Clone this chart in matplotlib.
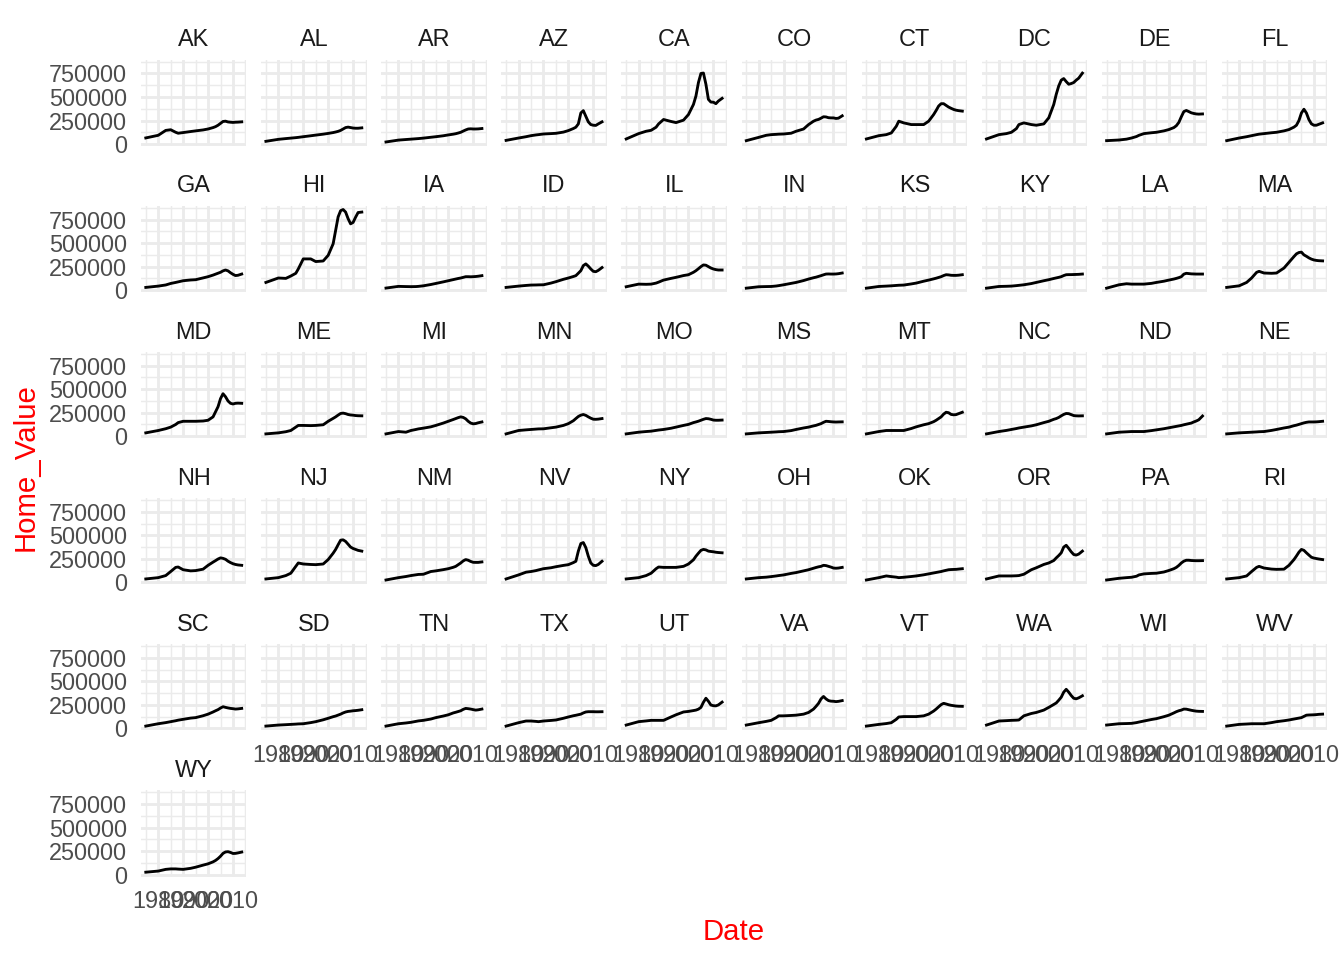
import numpy as np
import matplotlib
matplotlib.use('Agg')
import matplotlib.pyplot as plt

# Home value by state (thousands of dollars)
years = [1975, 1980, 1983, 1985, 1987, 1988, 1990, 1993, 1995, 1998, 2000,
         2002, 2003, 2004, 2005, 2006, 2007, 2008, 2009, 2010, 2011, 2012, 2013.5]

AK = [65, 93, 145, 152, 125, 115, 122, 133, 140, 150, 160, 175, 185, 200, 220, 240, 243, 235, 232, 230, 232, 233, 236]
AL = [29, 50, 58, 63, 68, 71, 78, 88, 95, 105, 113, 122, 128, 135, 145, 160, 175, 180, 175, 170, 168, 168, 172]
AR = [22, 42, 48, 52, 56, 58, 63, 72, 78, 88, 97, 105, 110, 117, 125, 138, 150, 160, 162, 160, 160, 161, 165]
AZ = [39, 64, 78, 89, 97, 100, 107, 111, 114, 127, 143, 165, 179, 214, 330, 355, 295, 236, 207, 200, 198, 214, 236]
CA = [54, 111, 136, 146, 179, 214, 261, 240, 228, 254, 314, 421, 511, 654, 750, 755, 636, 475, 446, 445, 429, 457, 486]
CO = [36, 71, 93, 100, 103, 105, 107, 115, 136, 160, 207, 243, 255, 262, 275, 290, 288, 280, 278, 278, 272, 275, 300]
CT = [54, 89, 100, 118, 189, 243, 225, 207, 207, 207, 243, 314, 357, 404, 429, 429, 411, 393, 380, 368, 360, 355, 350]
DC = [54, 100, 111, 125, 164, 207, 225, 207, 200, 214, 279, 421, 529, 618, 679, 696, 664, 636, 643, 654, 679, 700, 754]
DE = [36, 43, 52, 64, 80, 93, 111, 120, 125, 140, 154, 175, 195, 230, 290, 345, 357, 345, 332, 325, 320, 318, 320]
FL = [36, 64, 78, 89, 100, 105, 111, 120, 125, 140, 154, 180, 200, 250, 330, 370, 330, 260, 215, 200, 200, 210, 225]
GA = [29, 43, 55, 71, 82, 88, 100, 108, 111, 130, 143, 160, 170, 180, 190, 205, 214, 205, 185, 168, 155, 158, 171]
HI = [82, 129, 125, 150, 179, 225, 332, 332, 304, 310, 370, 493, 636, 779, 845, 857, 830, 760, 705, 720, 775, 825, 830]
IA = [22, 40, 38, 37, 38, 40, 46, 60, 71, 88, 100, 112, 118, 124, 129, 136, 143, 143, 142, 143, 145, 148, 154]
ID = [29, 43, 50, 54, 55, 56, 57, 75, 90, 115, 129, 145, 154, 180, 207, 261, 279, 255, 225, 200, 196, 210, 240]
IL = [36, 64, 62, 64, 75, 85, 107, 125, 136, 155, 164, 190, 207, 228, 250, 268, 265, 250, 235, 225, 218, 214, 214]
IN = [21, 36, 38, 39, 44, 48, 57, 72, 82, 102, 118, 132, 138, 146, 154, 163, 171, 172, 171, 171, 172, 175, 182]
KS = [21, 39, 43, 46, 50, 52, 54, 66, 75, 95, 107, 120, 127, 135, 143, 155, 164, 162, 158, 157, 157, 159, 164]
KY = [21, 39, 41, 43, 48, 51, 57, 70, 82, 100, 111, 124, 130, 136, 143, 155, 164, 165, 165, 166, 167, 168, 171]
LA = [21, 57, 68, 64, 64, 64, 64, 72, 82, 95, 107, 118, 125, 133, 143, 170, 179, 176, 173, 172, 171, 171, 171]
MA = [29, 46, 82, 129, 189, 200, 182, 179, 182, 235, 296, 357, 386, 400, 404, 375, 360, 343, 330, 321, 316, 313, 311]
MD = [36, 61, 80, 97, 125, 145, 159, 159, 159, 162, 170, 206, 260, 314, 400, 452, 420, 375, 350, 343, 350, 352, 350]
ME = [25, 36, 48, 61, 97, 115, 115, 113, 115, 122, 159, 190, 206, 225, 242, 246, 240, 231, 226, 224, 220, 218, 217]
MI = [25, 50, 43, 61, 72, 78, 86, 100, 115, 140, 159, 178, 188, 198, 206, 200, 185, 159, 140, 132, 135, 143, 152]
MN = [25, 61, 68, 72, 76, 78, 79, 90, 97, 115, 134, 165, 188, 210, 224, 231, 222, 206, 192, 181, 180, 182, 188]
MO = [25, 43, 50, 54, 62, 66, 72, 85, 97, 115, 126, 145, 152, 160, 170, 180, 188, 186, 180, 172, 170, 170, 172]
MS = [25, 36, 40, 43, 46, 48, 50, 60, 72, 88, 97, 110, 116, 125, 134, 148, 159, 157, 154, 152, 151, 152, 153]
MT = [25, 50, 61, 61, 61, 61, 61, 82, 100, 122, 134, 155, 170, 188, 206, 235, 255, 250, 232, 228, 230, 240, 255]
NC = [25, 50, 62, 72, 82, 88, 97, 110, 122, 145, 159, 180, 188, 200, 217, 232, 242, 240, 230, 220, 217, 216, 217]
ND = [25, 43, 47, 50, 50, 50, 50, 60, 68, 80, 90, 100, 105, 110, 115, 122, 128, 134, 140, 152, 162, 175, 215]
NE = [25, 36, 40, 43, 46, 48, 50, 62, 72, 88, 97, 112, 118, 126, 134, 142, 148, 152, 152, 152, 153, 155, 159]
NH = [36, 50, 72, 115, 159, 163, 134, 122, 125, 140, 181, 215, 231, 248, 260, 255, 245, 225, 210, 198, 190, 185, 181]
NJ = [36, 50, 72, 97, 170, 206, 195, 190, 188, 195, 242, 310, 350, 400, 448, 452, 435, 405, 375, 360, 350, 340, 332]
NM = [25, 50, 62, 72, 80, 84, 86, 115, 122, 135, 145, 160, 170, 188, 206, 228, 242, 235, 222, 213, 212, 212, 217]
NV = [36, 79, 108, 115, 125, 132, 145, 155, 166, 180, 188, 210, 224, 332, 412, 423, 369, 278, 206, 181, 178, 190, 224]
NY = [36, 50, 72, 97, 145, 163, 159, 159, 159, 170, 195, 240, 278, 310, 340, 350, 345, 332, 328, 325, 320, 317, 314]
OH = [36, 50, 55, 61, 68, 72, 79, 95, 104, 122, 134, 150, 158, 165, 170, 181, 178, 170, 162, 152, 150, 152, 159]
OK = [25, 50, 68, 61, 55, 50, 54, 62, 68, 80, 90, 100, 105, 110, 115, 122, 128, 134, 136, 137, 138, 141, 145]
OR = [36, 68, 68, 68, 70, 72, 86, 134, 155, 190, 206, 232, 260, 285, 314, 375, 394, 361, 325, 296, 290, 300, 332]
PA = [25, 43, 50, 54, 65, 79, 90, 95, 97, 110, 126, 145, 159, 180, 206, 225, 235, 235, 232, 231, 230, 230, 231]
RI = [36, 50, 68, 115, 159, 170, 152, 141, 138, 140, 181, 242, 280, 321, 350, 340, 314, 290, 267, 258, 253, 248, 242]
SC = [25, 50, 62, 72, 82, 88, 97, 110, 115, 135, 152, 175, 188, 200, 217, 231, 224, 218, 213, 210, 206, 208, 213]
SD = [25, 36, 40, 43, 46, 48, 50, 62, 72, 92, 108, 125, 132, 142, 152, 165, 175, 181, 184, 188, 190, 193, 199]
TN = [25, 50, 58, 65, 75, 80, 86, 100, 115, 132, 145, 165, 172, 180, 188, 203, 213, 210, 206, 200, 195, 198, 206]
TX = [25, 61, 79, 79, 75, 72, 79, 85, 90, 108, 122, 135, 140, 146, 152, 165, 175, 178, 178, 178, 177, 177, 178]
UT = [36, 72, 80, 86, 86, 86, 86, 122, 145, 175, 181, 190, 195, 205, 224, 278, 321, 289, 249, 242, 240, 250, 280]
VA = [36, 61, 75, 86, 115, 134, 134, 138, 141, 152, 170, 206, 235, 267, 314, 340, 314, 296, 290, 289, 285, 288, 296]
VT = [25, 43, 52, 61, 97, 122, 126, 126, 126, 134, 152, 185, 206, 230, 253, 267, 260, 252, 246, 242, 238, 236, 235]
WA = [36, 79, 83, 86, 88, 90, 134, 159, 170, 195, 224, 255, 271, 300, 332, 386, 416, 386, 350, 321, 315, 325, 347]
WI = [36, 50, 52, 54, 62, 68, 79, 95, 104, 125, 141, 165, 178, 188, 195, 206, 205, 199, 193, 188, 184, 182, 181]
WV = [25, 43, 47, 50, 50, 50, 50, 62, 72, 82, 90, 100, 105, 110, 115, 128, 141, 143, 144, 145, 147, 150, 152]
WY = [25, 37, 55, 60, 60, 58, 55, 66, 78, 100, 114, 135, 150, 170, 195, 225, 240, 243, 235, 224, 225, 230, 239]

states = ['AK', 'AL', 'AR', 'AZ', 'CA', 'CO', 'CT', 'DC', 'DE', 'FL',
          'GA', 'HI', 'IA', 'ID', 'IL', 'IN', 'KS', 'KY', 'LA', 'MA',
          'MD', 'ME', 'MI', 'MN', 'MO', 'MS', 'MT', 'NC', 'ND', 'NE',
          'NH', 'NJ', 'NM', 'NV', 'NY', 'OH', 'OK', 'OR', 'PA', 'RI',
          'SC', 'SD', 'TN', 'TX', 'UT', 'VA', 'VT', 'WA', 'WI', 'WV', 'WY']
series = [AK, AL, AR, AZ, CA, CO, CT, DC, DE, FL,
          GA, HI, IA, ID, IL, IN, KS, KY, LA, MA,
          MD, ME, MI, MN, MO, MS, MT, NC, ND, NE,
          NH, NJ, NM, NV, NY, OH, OK, OR, PA, RI,
          SC, SD, TN, TX, UT, VA, VT, WA, WI, WV, WY]

x_major = [1980, 1990, 2000, 2010]
x_minor = [1975, 1985, 1995, 2005, 2015]
y_major = [0, 250000, 500000, 750000]
y_minor = [125000, 375000, 625000, 875000]

plt.rcParams['font.family'] = ['Liberation Sans', 'DejaVu Sans']

dates = np.array(years, dtype=float)
vals = [np.array(s) * 1000 for s in series]

# ggplot-like 5% expansion of the shared scales
allv = np.concatenate(vals)
ylo, yhi = allv.min(), allv.max()
ylim = (ylo - 0.05 * (yhi - ylo), yhi + 0.05 * (yhi - ylo))
xlo, xhi = dates.min(), dates.max()
xlim = (xlo - 0.05 * (xhi - xlo), xhi + 0.05 * (xhi - xlo))

W, H = 1344, 960
fig = plt.figure(figsize=(7, 5), dpi=192)

ncol = 10
pw, ph = 105.5, 86.5
for i, (st, v) in enumerate(zip(states, vals)):
    r, c = divmod(i, ncol)
    left = 141 + 120.1 * c
    top = 59.5 + 146.1 * r
    ax = fig.add_axes([left / W, 1 - (top + ph) / H, pw / W, ph / H])
    ax.set_axisbelow(True)
    ax.plot(dates, v, color='black', lw=1.07)
    ax.set_xlim(xlim)
    ax.set_ylim(ylim)
    ax.set_xticks(x_major)
    ax.set_xticks(x_minor, minor=True)
    ax.set_yticks(y_major)
    ax.set_yticks(y_minor, minor=True)
    ax.grid(which='major', color='#EBEBEB', lw=1.07)
    ax.grid(which='minor', color='#EBEBEB', lw=0.53)
    for s in ax.spines.values():
        s.set_visible(False)
    ax.tick_params(which='both', length=0)
    ax.tick_params(axis='y', pad=5.2, labelsize=8.8, labelcolor='#4D4D4D')
    ax.tick_params(axis='x', pad=4.95, labelsize=8.8, labelcolor='#4D4D4D')

    if c == 0:
        ax.set_yticklabels([str(t) for t in y_major])
    else:
        ax.set_yticklabels([])
    last_in_col = (r == 5) or (r == 4 and c > 0)
    if last_in_col:
        ax.set_xticklabels([str(t) for t in x_major])
    else:
        ax.set_xticklabels([])

    ax.text(0.5, 1 + 13.1 / ph, st, transform=ax.transAxes, ha='center',
            va='baseline', fontsize=8.8, color='#1A1A1A')

fig.text(734 / W, 1 - 940.5 / H, 'Date', ha='center', va='baseline',
         fontsize=11, color='red')
fig.text(26 / W, 1 - 467.5 / H, 'Home_Value', ha='center', va='center',
         rotation=90, fontsize=11, color='red')

fig.savefig('out.png', dpi=192)
